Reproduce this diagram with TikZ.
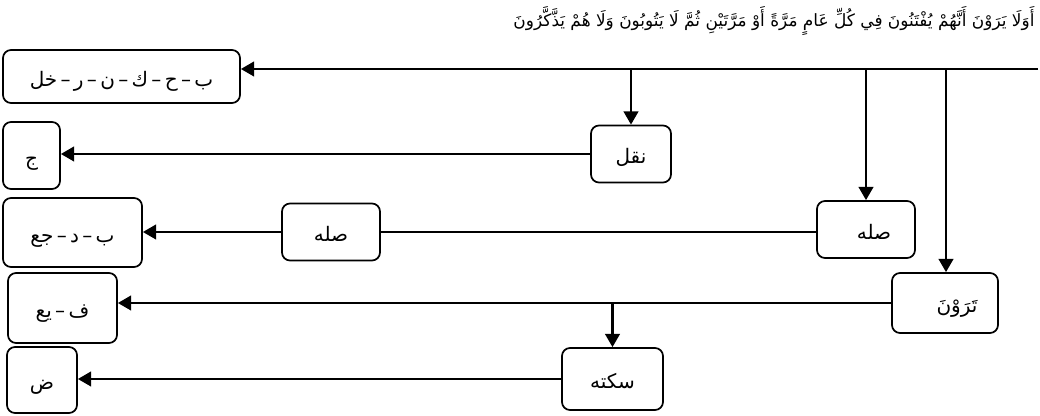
\documentclass[tikz,border=0pt]{standalone}
\usepackage{fontspec}
\usetikzlibrary{arrows.meta}
\newfontfamily\arabicfont[Script=Arabic]{DejaVu Sans}
\TeXXeTstate=1
\newcommand{\yazi}[1]{\beginR #1\endR}

\begin{document}
\begin{tikzpicture}[x=0.75pt, y=-0.75pt,
  kutu/.style 2 args={draw, rounded corners=6pt, line width=1.3pt, inner sep=0pt,
    minimum width=#1*0.75pt, minimum height=#2*0.75pt,
    text height=15pt, text depth=0pt,
    font=\arabicfont\fontsize{15}{17}\selectfont},
  ok/.style={-{Triangle[width=11pt,length=10pt]}, line width=1.8pt},
  hat/.style={line width=1.8pt}]
\useasboundingbox (0,0) rectangle (1040,416);

% ayet
\node (ayet) at (774,21) {\arabicfont\fontsize{12.7}{15}\selectfont\beginR أَوَلَا يَرَوْنَ أَنَّهُمْ يُفْتَنُونَ فِي كُلِّ عَامٍ مَرَّةً أَوْ مَرَّتَيْنِ ثُمَّ لَا يَتُوبُونَ وَلَا هُمْ يَذَّكَّرُونَ\endR};

% kutular
\node[kutu={237}{53}] (kok) at (121.5,76.5) {\yazi{ب\,–\,ح\,–\,ك\,–\,ن\,–\,ر\,–\,خل}};
\node[kutu={80}{57}] (naql) at (631,154) {\yazi{نقل}};
\node[kutu={57}{67}] (cim) at (31.5,155.5) {\yazi{ج}};
\node[kutu={98}{57}] (sila1) at (866,229.5) {\hspace{12pt}\yazi{صله}};
\node[kutu={98}{57}] (sila2) at (331,232) {\yazi{صله}};
\node[kutu={139}{69}] (bdj) at (72.5,232.5) {\yazi{ب\,–\,د\,–\,جع}};
\node[kutu={106}{60}] (tarawna) at (945,303) {\hspace{18pt}\yazi{تَرَوْنَ}};
\node[kutu={109}{70}] (fy) at (62.5,308) {\yazi{ف\,–\,يع}};
\node[kutu={101}{62}] (sakta) at (612.5,379) {\yazi{سكته}};
\node[kutu={70}{66}] (dad) at (42,380) {\yazi{ض}};

% ana hat ve dallar
\coordinate (giris) at (1038,69);
\coordinate (d1) at (631,69);
\coordinate (d2) at (866,69);
\coordinate (d3) at (946,69);
\coordinate (d4) at (612.5,304);
\draw[ok] (giris) -- (kok.east |- giris);
\draw[ok] (d1) -- (naql.north);
\draw[ok] (d2) -- (sila1.north);
\draw[ok] (d3) -- (tarawna.north -| d3);

\draw[ok] (naql.west) -- (cim.east |- naql.west);
\draw[hat] (sila1.west |- sila2.east) -- (sila2.east);
\draw[ok] (sila2.west) -- (bdj.east |- sila2.west);
\draw[ok] (tarawna.west) -- (fy.east |- tarawna.west);
\draw[ok] (d4) -- (sakta.north);
\draw[ok] (sakta.west) -- (dad.east |- sakta.west);
\end{tikzpicture}
\end{document}
